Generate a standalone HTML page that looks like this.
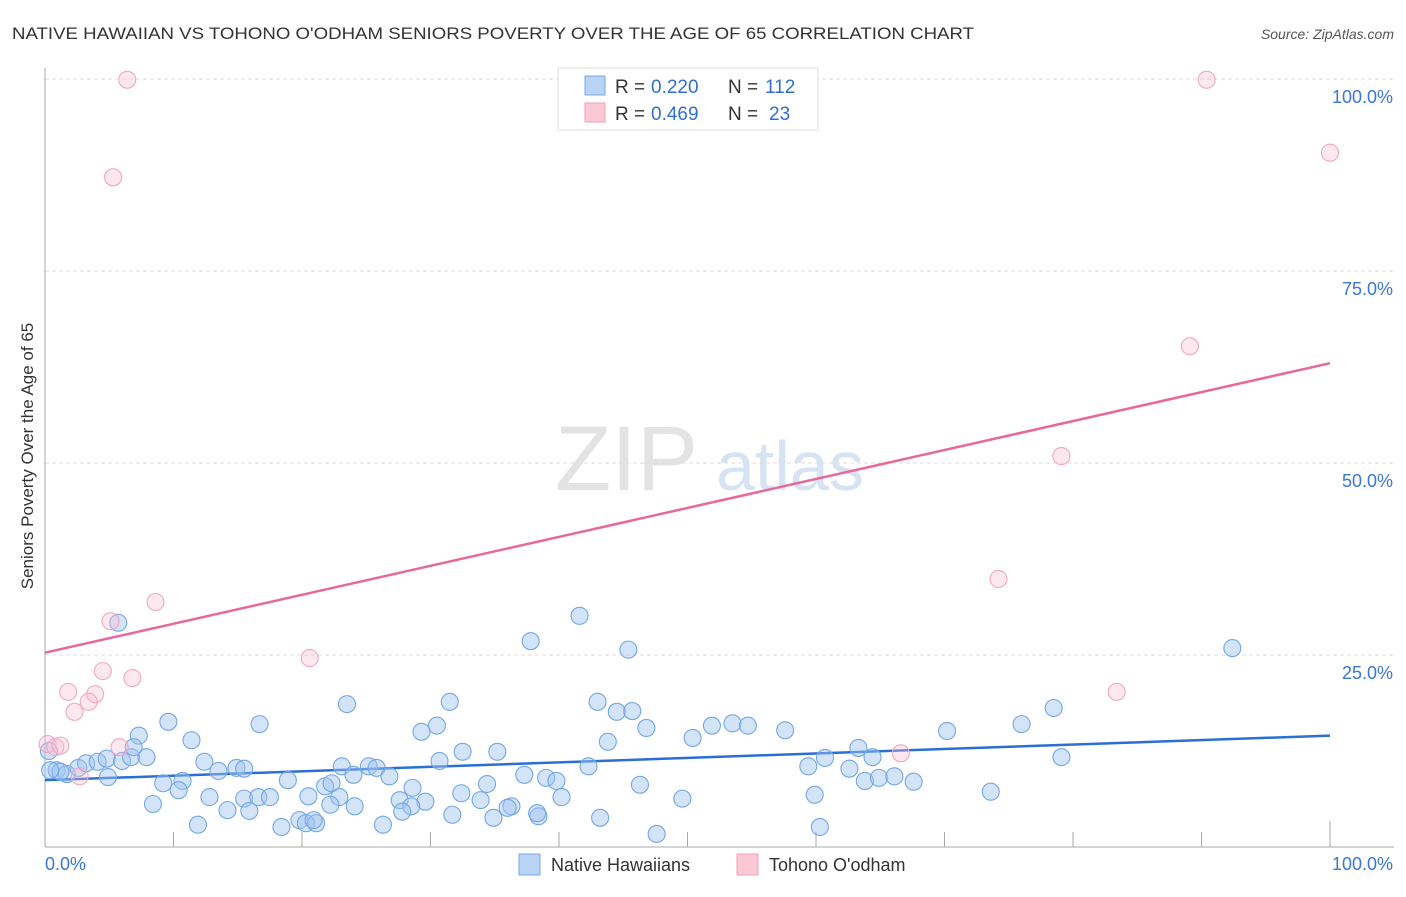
<!DOCTYPE html>
<html><head><meta charset="utf-8"><style>
body{margin:0;background:#fff;font-family:"Liberation Sans",sans-serif;}
svg text{font-family:"Liberation Sans",sans-serif;}
</style></head><body>
<svg id="chart" width="1406" height="892" viewBox="0 0 1406 892" xmlns="http://www.w3.org/2000/svg">
<text x="12" y="39" font-size="17" fill="#333" textLength="962" lengthAdjust="spacingAndGlyphs">NATIVE HAWAIIAN VS TOHONO O'ODHAM SENIORS POVERTY OVER THE AGE OF 65 CORRELATION CHART</text>
<text x="1394" y="39" font-size="14" fill="#555" font-style="italic" text-anchor="end">Source: ZipAtlas.com</text>
<g>
<text x="555" y="490" font-size="92" fill="#ddd" font-family="Liberation Serif" opacity="0.8">ZIP</text>
<text x="716" y="490" font-size="70" fill="#c5d8f0" opacity="0.7">atlas</text>
</g>
<g id="grid"></g>
<g id="axes"></g>
<g id="lines"></g>
<g id="points"></g>
<text transform="translate(33,456) rotate(-90)" font-size="17" fill="#333" text-anchor="middle">Seniors Poverty Over the Age of 65</text>
<g>
<rect x="558" y="68" width="260" height="62" fill="#fff" stroke="#ddd"/>
<rect x="585" y="76" width="20" height="19" fill="#b8d3f5" stroke="#7aaae6"/>
<rect x="585" y="103" width="20" height="19" fill="#fbc8d6" stroke="#f0a0b8"/>
<text x="615" y="93" font-size="19" fill="#333">R =</text>
<text x="651" y="93" font-size="19" fill="#2f6fd0">0.220</text>
<text x="728" y="93" font-size="19" fill="#333">N =</text>
<text x="765" y="93" font-size="19" fill="#2f6fd0">112</text>
<text x="615" y="120" font-size="19" fill="#333">R =</text>
<text x="651" y="120" font-size="19" fill="#2f6fd0">0.469</text>
<text x="728" y="120" font-size="19" fill="#333">N =</text>
<text x="769" y="120" font-size="19" fill="#2f6fd0">23</text>
</g>
<g>
<rect x="519" y="854" width="21" height="21" fill="#b8d3f5" stroke="#7aaae6"/>
<text x="551" y="871" font-size="18" fill="#333">Native Hawaiians</text>
<rect x="737" y="854" width="21" height="21" fill="#fbc8d6" stroke="#f0a0b8"/>
<text x="769" y="871" font-size="18" fill="#333">Tohono O'odham</text>
</g>
</svg>
<script>
const blueX=[5.7,37.8,41.6,45.4,92.4,23.5,31.5,43.0,44.5,45.7,9.6,16.7,30.5,29.3,46.8,78.5,76.0,51.9,53.5,54.7,57.6,70.2,7.3,11.4,43.8,50.4,63.3,0.9,1.7,2.6,3.2,4.1,4.8,6.0,6.7,7.9,6.9,12.4,14.9,15.5,13.5,4.9,1.2,0.4,32.5,35.2,30.7,25.2,23.1,25.8,26.8,21.8,22.3,24.0,18.9,10.7,9.2,10.4,12.8,15.5,14.2,16.6,17.5,20.5,22.9,27.6,28.6,29.6,28.5,27.8,32.4,34.4,37.3,39.0,39.8,42.3,46.3,40.2,33.9,36.3,36.0,38.4,31.7,34.9,43.2,49.6,24.1,22.2,15.9,11.9,18.4,19.8,20.3,21.1,20.9,26.3,38.3,47.6,60.3,59.9,59.4,60.7,62.6,63.8,64.4,64.9,66.1,67.6,73.6,79.1,8.4,0.3];
const blueY=[29.2,26.8,30.1,25.7,25.9,18.6,18.9,18.9,17.6,17.7,16.3,16.0,15.8,15.0,15.5,18.1,16.0,15.8,16.1,15.8,15.2,15.1,14.5,13.9,13.7,14.2,12.9,10.0,9.5,10.3,10.9,11.1,11.5,11.2,11.7,11.7,13.0,11.1,10.3,10.2,9.9,9.1,9.8,10.0,12.4,12.4,11.2,10.5,10.5,10.3,9.2,7.9,8.3,9.4,8.7,8.6,8.3,7.4,6.5,6.3,4.8,6.5,6.5,6.6,6.5,6.1,7.7,5.9,5.3,4.6,7.0,8.2,9.4,9.0,8.6,10.5,8.1,6.5,6.1,5.3,5.1,4.0,4.2,3.8,3.8,6.3,5.3,5.5,4.7,2.9,2.6,3.5,3.1,3.1,3.5,2.9,4.4,1.7,2.6,6.8,10.5,11.6,10.2,8.6,11.7,9.0,9.2,8.5,7.2,11.7,5.6,12.5];
const pinkX=[6.4,5.3,90.4,100,89.1,79.1,74.2,8.6,20.6,5.1,4.5,6.8,1.8,3.9,3.4,2.3,83.4,66.6,0.2,0.8,1.2,5.8,2.7];
const pinkY=[99.9,87.2,99.9,90.4,65.2,50.9,34.9,31.9,24.6,29.4,22.9,22.0,20.2,19.9,18.9,17.6,20.2,12.2,13.4,13.0,13.2,13.0,9.2];
const trendBlue=[8.7,14.5];
const trendPink=[25.3,63.0];
const yTicks=[25,50,75,100];
const yTickLabels=["25.0%","50.0%","75.0%","100.0%"];
const xTickLabels=["0.0%","100.0%"];
const NS="http://www.w3.org/2000/svg";
const X0=45,X1=1330,Y0=847,Y1=79;
function sx(v){return X0+(X1-X0)*v/100;}
function sy(v){return Y0-(Y0-Y1)*v/100;}
function mk(tag,attrs,parent){const e=document.createElementNS(NS,tag);for(const k in attrs)e.setAttribute(k,attrs[k]);document.getElementById(parent).appendChild(e);return e;}
yTicks.forEach((t,i)=>{
  const g=mk('line',{x1:X0,x2:1394,y1:sy(t),y2:sy(t),stroke:'#ddd','stroke-dasharray':'4,3'},'grid');
  
  
  const l=mk('text',{x:1393,y:sy(t)+24,'font-size':18,fill:'#3a76d4','text-anchor':'end'},'grid');
  l.textContent=yTickLabels[i];
  
  
});
let ax=mk('line',{x1:X0,x2:X0,y1:68,y2:Y0,stroke:'#aaa'},'axes');


ax=mk('line',{x1:X0,x2:1394,y1:Y0,y2:Y0,stroke:'#aaa'},'axes');


for(let i=1;i<=10;i++){
  const t=mk('line',{x1:sx(i*10),x2:sx(i*10),y1:i==10?821:832,y2:Y0,stroke:'#aaa'},'axes');
  
  
}
[0,100].forEach((v,i)=>{
  const l=mk('text',{x:i?1393:45,y:870,'font-size':18,fill:'#3a76d4','text-anchor':i?'end':'start'},'axes');
  l.textContent=xTickLabels[i];
  
  
});
blueX.forEach((v,i)=>{
  const c=mk('circle',{cx:sx(v),cy:sy(blueY[i]),r:8.5,fill:'rgba(160,196,240,0.45)',stroke:'#72a7e6','stroke-width':1.1},'points');
  
  
});
pinkX.forEach((v,i)=>{
  const c=mk('circle',{cx:sx(v),cy:sy(pinkY[i]),r:8.5,fill:'rgba(248,190,208,0.35)',stroke:'#f0a8be','stroke-width':1.1},'points');
  
  
});
let tl=mk('line',{x1:sx(0),x2:sx(100),y1:sy(trendBlue[0]),y2:sy(trendBlue[1]),stroke:'#2a6fd6','stroke-width':2.5},'lines');


tl=mk('line',{x1:sx(0),x2:sx(100),y1:sy(trendPink[0]),y2:sy(trendPink[1]),stroke:'#e8689a','stroke-width':2.5},'lines');


</script>
</body></html>
